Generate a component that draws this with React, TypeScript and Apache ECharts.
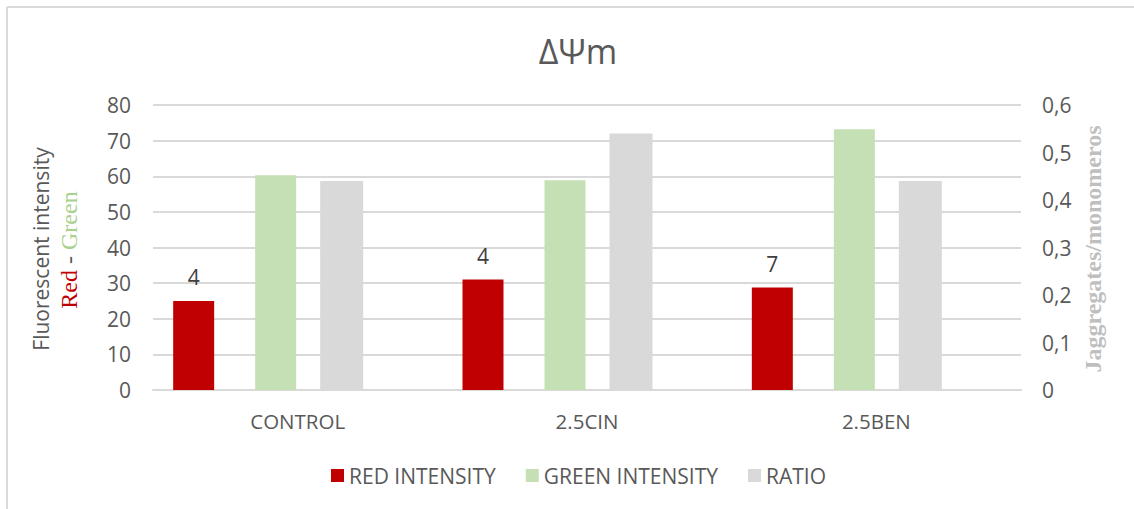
import React, { useEffect, useRef } from "react";
import * as echarts from "echarts";

const categories = ["CONTROL", "2.5CIN", "2.5BEN"];
const redIntensity = [25, 31, 28.8];
const greenIntensity = [60.3, 58.9, 73.2];
const ratio = [0.44, 0.54, 0.44];
const redLabels = ["4", "4", "7"];
const leftTicks = { min: 0, max: 80, interval: 10 };
const rightTicks = { min: 0, max: 0.6, interval: 0.1 };

const FONT = "'Open Sans', 'Noto Sans', sans-serif";
const SERIF = "'Liberation Serif', 'DejaVu Serif', serif";

export default function App() {
  const ref = useRef<HTMLDivElement>(null);
  useEffect(() => {
    if (!ref.current) return;
    const chart = echarts.init(ref.current, undefined, { renderer: "svg" });
    chart.setOption({
      animation: false,
      backgroundColor: "#ffffff",
      title: {
        text: "ΔΨm",
        left: 573,
        top: 29,
        textAlign: "center",
        textStyle: { fontFamily: FONT, fontSize: 34, fontWeight: "normal", color: "#595959" },
      },
      legend: {
        data: ["RED INTENSITY", "GREEN INTENSITY", "RATIO"],
        left: 326,
        top: 460,
        itemWidth: 13,
        itemHeight: 13,
        itemGap: 30,
        icon: "rect",
        textStyle: { fontFamily: FONT, fontSize: 21, color: "#595959" },
      },
      grid: { left: 153, right: 113, top: 105, bottom: 119, containLabel: false },
      xAxis: [
        {
          type: "category",
          data: categories,
          axisLine: { lineStyle: { color: "#d9d9d9", width: 2 } },
          axisTick: { show: false },
          axisLabel: { fontFamily: FONT, fontSize: 20.5, color: "#595959", margin: 20 },
        },
        {
          type: "category",
          data: categories,
          show: false,
        },
      ],
      yAxis: [
        {
          type: "value",
          ...leftTicks,
          axisLine: { show: false },
          axisTick: { show: false },
          splitLine: { lineStyle: { color: "#d9d9d9", width: 2 } },
          axisLabel: { fontFamily: FONT, fontSize: 21, color: "#595959", margin: 22 },
        },
        {
          type: "value",
          ...rightTicks,
          position: "right",
          axisLine: { show: false },
          axisTick: { show: false },
          splitLine: { show: false },
          axisLabel: {
            fontFamily: FONT,
            fontSize: 21,
            color: "#595959",
            margin: 21,
            formatter: (v: number) => (v === 0 ? "0" : v.toFixed(1).replace(".", ",")),
          },
        },
      ],
      series: [
        {
          name: "RED INTENSITY",
          type: "bar",
          xAxisIndex: 0,
          yAxisIndex: 0,
          data: redIntensity,
          barWidth: 41,
          barGap: "100%",
          itemStyle: { color: "#c00000" },
          label: {
            show: true,
            position: "top",
            distance: 13,
            fontFamily: FONT,
            fontSize: 21,
            color: "#404040",
            formatter: (p: any) => redLabels[p.dataIndex],
          },
        },
        {
          name: "GREEN INTENSITY",
          type: "bar",
          xAxisIndex: 0,
          yAxisIndex: 0,
          data: greenIntensity,
          barWidth: 41,
          barGap: "100%",
          itemStyle: { color: "#c5e0b4" },
        },
        {
          name: "pad1",
          type: "bar",
          xAxisIndex: 0,
          yAxisIndex: 0,
          data: [null, null, null],
          barWidth: 85,
          barGap: "100%",
          silent: true,
        },
        {
          name: "pad2",
          type: "bar",
          xAxisIndex: 1,
          yAxisIndex: 1,
          data: [null, null, null],
          barWidth: 88,
          barGap: "0%",
          silent: true,
        },
        {
          name: "RATIO",
          type: "bar",
          xAxisIndex: 1,
          yAxisIndex: 1,
          data: ratio,
          barWidth: 43,
          barGap: "0%",
          itemStyle: { color: "#d9d9d9" },
        },
      ],
      graphic: [
        { type: "line", shape: { x1: 7, y1: 7, x2: 1134, y2: 7 }, style: { stroke: "#d9d9d9", lineWidth: 2 } },
        { type: "line", shape: { x1: 7, y1: 7, x2: 7, y2: 509 }, style: { stroke: "#d9d9d9", lineWidth: 2 } },
        {
          type: "text",
          x: 41,
          y: 249,
          rotation: Math.PI / 2,
          style: {
            text: "Fluorescent intensity",
            fontFamily: FONT,
            fontSize: 21,
            fill: "#595959",
            align: "center",
            verticalAlign: "middle",
          },
        },
        {
          type: "text",
          x: 69,
          y: 250,
          rotation: Math.PI / 2,
          style: {
            text: "{r|Red}{d| - }{g|Green}",
            align: "center",
            verticalAlign: "middle",
            rich: {
              r: { fontFamily: SERIF, fontSize: 24, fill: "#c00000", color: "#c00000" },
              d: { fontFamily: SERIF, fontSize: 24, fill: "#595959", color: "#595959" },
              g: { fontFamily: SERIF, fontSize: 24, fill: "#a9d18e", color: "#a9d18e" },
            },
          },
        },
        {
          type: "text",
          x: 1093,
          y: 249,
          rotation: Math.PI / 2,
          style: {
            text: "Jaggregates/monomeros",
            fontFamily: SERIF,
            fontSize: 24,
            fontWeight: "bold",
            fill: "#bfbfbf",
            align: "center",
            verticalAlign: "middle",
          },
        },
      ],
    });
    return () => chart.dispose();
  }, []);
  return (
    <div
      ref={ref}
      style={{ position: "fixed", left: 0, top: 0, width: 1134, height: 509, background: "#fff" }}
    />
  );
}
